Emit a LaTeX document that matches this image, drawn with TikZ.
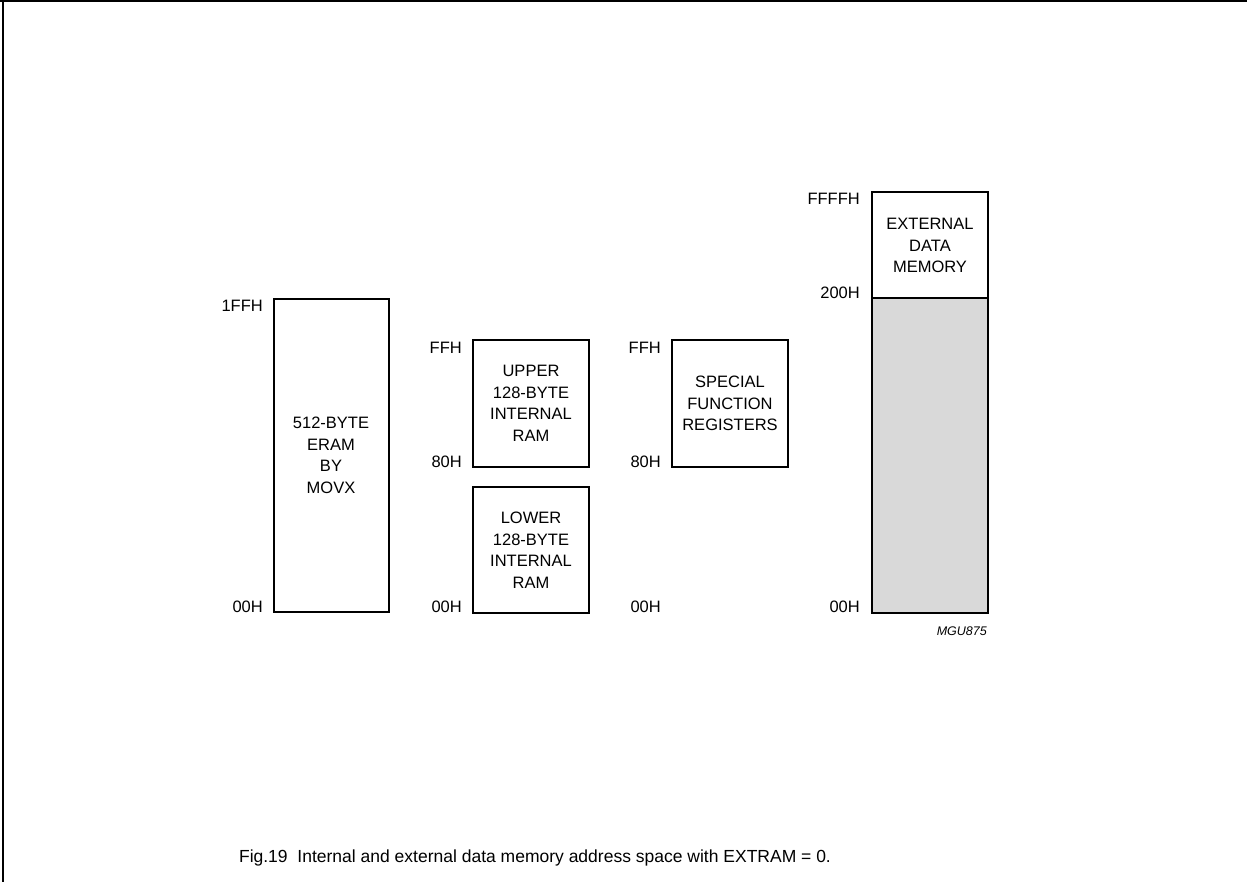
\documentclass[tikz,border=0pt]{standalone}
\usepackage{fontspec}
\setmainfont{Liberation Sans}
\begin{document}
\begin{tikzpicture}[x=1pt,y=-1pt,
  membox/.style={draw, line width=2pt, inner sep=0pt, align=center,
    font=\fontsize{16.5}{21.5}\selectfont},
  addr/.style={inner sep=0pt, anchor=base east, font=\fontsize{16.5}{20}\selectfont},
  frameline/.style={line width=2pt}
]
\useasboundingbox (0,0) rectangle (1247,882);
% frame
\coordinate (ftl) at (0,1.5);
\coordinate (ftr) at (1247,1.5);
\coordinate (flt) at (2.5,0);
\coordinate (flb) at (2.5,882);
\draw[frameline] (ftl) -- (ftr);
\draw[frameline] (flt) -- (flb);

% boxes
\node[membox, minimum width=115pt, minimum height=313pt] (eram) at (331,455.5)
  {512-BYTE\\ERAM\\BY\\MOVX};
\node[membox, minimum width=116pt, minimum height=126pt] (upper) at (531,403.5)
  {UPPER\\128-BYTE\\INTERNAL\\RAM};
\node[membox, minimum width=116pt, minimum height=126pt] (lower) at (531,550)
  {LOWER\\128-BYTE\\INTERNAL\\RAM};
\node[membox, minimum width=116pt, minimum height=126pt] (sfr) at (730,403.5)
  {SPECIAL\\FUNCTION\\REGISTERS};
\node[membox, fill={rgb,255:red,217;green,217;blue,217}, minimum width=116pt, minimum height=314pt] (extlow) at (930,455.5) {};
\node[membox, minimum width=116pt, minimum height=106pt] (ext) at (930,245.5)
  {EXTERNAL\\DATA\\MEMORY};

% address labels
\node[addr] (a1) at (263,312) {1FFH};
\node[addr] (a2) at (263,612) {00H};
\node[addr] (a3) at (462,354) {FFH};
\node[addr] (a4) at (462,467) {80H};
\node[addr] (a5) at (462,612) {00H};
\node[addr] (a6) at (661,354) {FFH};
\node[addr] (a7) at (661,467) {80H};
\node[addr] (a8) at (661,612) {00H};
\node[addr] (a9) at (860,205) {FFFFH};
\node[addr] (a10) at (860,299) {200H};
\node[addr] (a11) at (860,612) {00H};

\node[inner sep=0pt, anchor=base east, font=\fontsize{12.5}{15}\selectfont\itshape] (ref) at (987,635) {MGU875};

\node[inner sep=0pt, anchor=base, font=\fontsize{17.5}{21}\selectfont] (cap) at (535,862)
  {Fig.19\ \ Internal and external data memory address space with EXTRAM = 0.};
\end{tikzpicture}
\end{document}
